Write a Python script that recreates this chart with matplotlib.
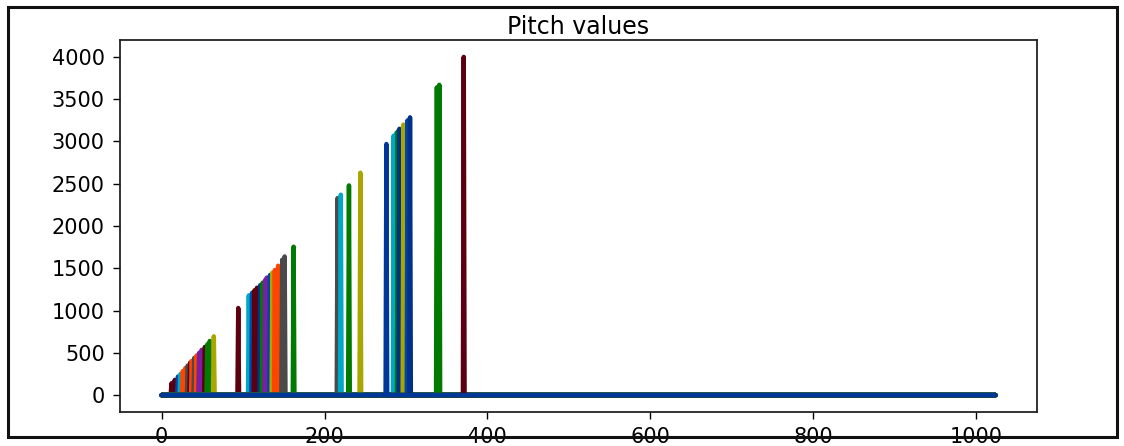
import numpy as np
import matplotlib
matplotlib.use("Agg")
import matplotlib.pyplot as plt
from matplotlib.patches import Rectangle

# frequency bin of every spike and the pitch value
bins = [12, 16, 20, 23, 26, 29, 32, 35, 37, 40, 43, 46, 49, 53, 56, 59, 64,
        94,
        107, 111, 114, 117, 121, 124, 127, 129, 133, 136, 139, 143, 148, 151, 162,
        216, 220, 230, 244,
        285, 288, 290, 292, 297, 302, 305,
        338, 341,
        371,
        276]
pitches = [140, 180, 220, 250, 285, 320, 350, 385, 405, 440, 470, 500, 535, 570, 600, 640, 695,
           1030,
           1180, 1210, 1240, 1270, 1300, 1330, 1360, 1390, 1420, 1450, 1480, 1530, 1600, 1640, 1755,
           2330, 2370, 2480, 2630,
           3070, 3100, 3120, 3150, 3200, 3250, 3285,
           3640, 3670,
           4000,
           2970]
n_bins = 1025

colors = ["#5c0010", "#5c0010", "#0046a8", "#00a8c8", "#ff4400", "#ff4400", "#4a4a4a",
          "#5c0010", "#ff4400", "#4a4a4a", "#ff4400", "#7a1fa0", "#7a1fa0",
          "#5c0010", "#007a00", "#007a00", "#aaa600",
          "#5c0010",
          "#00a8c8", "#0046a8", "#5c0010", "#5c0010", "#00308a", "#007a00",
          "#7a1fa0", "#7a1fa0", "#0046a8", "#aaa600", "#ff4400", "#ff4400",
          "#4a4a4a", "#4a4a4a", "#007a00",
          "#4a4a4a", "#00a8c8", "#007a00", "#aaa600",
          "#00a8c8", "#00a8c8", "#007a00", "#00308a", "#aaa600", "#0046a8", "#00308a",
          "#007a00", "#007a00",
          "#5c0010",
          "#00389a"]

# one column per spike, zero everywhere else (like plotting a pitch matrix)
arr = np.zeros((n_bins, len(bins)))
for i, (b, p) in enumerate(zip(bins, pitches)):
    arr[b, i] = p

fig = plt.figure(figsize=(11.24, 4.46), dpi=100)
ax = fig.add_axes([0.1068, 0.0762, 0.8158, 0.8341])
ax.set_prop_cycle(color=colors)
ax.plot(np.arange(n_bins), arr, linewidth=3.2, solid_capstyle="round")

ax.set_title("Pitch values", fontsize=17, pad=4)
ax.set_yticks(np.arange(0, 4001, 500))
ax.set_xticks(np.arange(0, 1001, 200))
ax.tick_params(axis="both", labelsize=15, direction="out", length=5,
               width=1, top=False, right=False, pad=6)
for sp in ax.spines.values():
    sp.set_color("#222222")
    sp.set_linewidth(1.3)

# border round the whole figure
fig.patches.append(Rectangle((8 / 1124, 1 - 437 / 446), 1109 / 1124, 430 / 446,
                             transform=fig.transFigure, fill=False,
                             edgecolor="#111111", linewidth=2.2))

fig.savefig("out.png", dpi=100)
